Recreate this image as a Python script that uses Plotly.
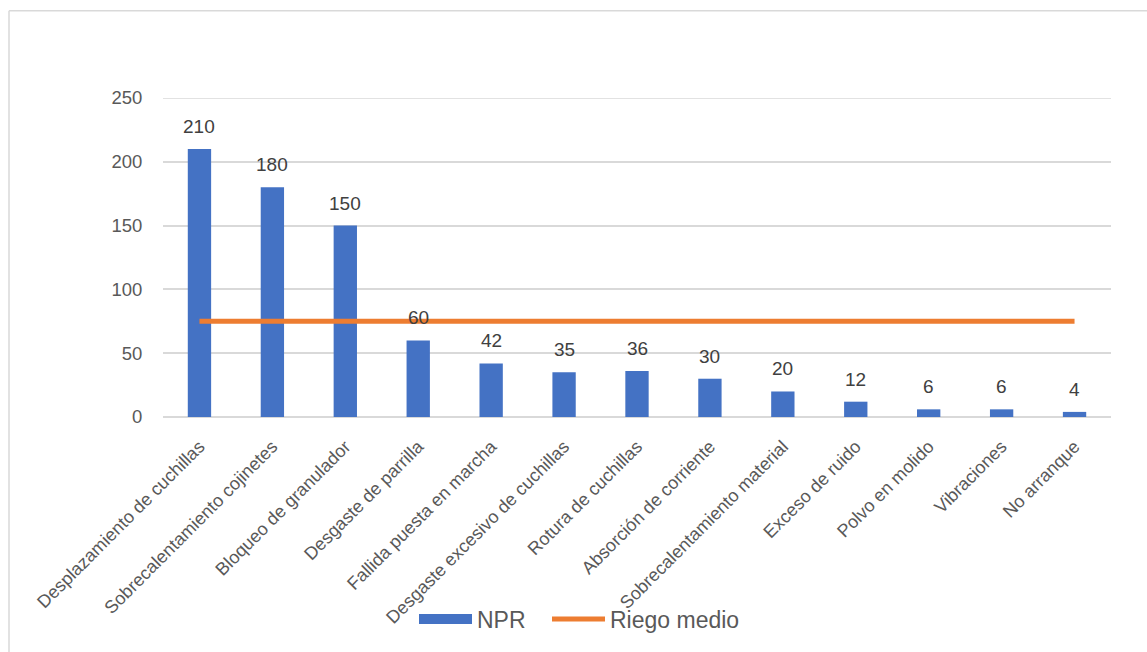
import plotly.graph_objects as go

categorias = ["Desplazamiento de cuchillas", "Sobrecalentamiento cojinetes", "Bloqueo de granulador",
              "Desgaste de parrilla", "Fallida puesta en marcha", "Desgaste excesivo de cuchillas",
              "Rotura de cuchillas", "Absorción de corriente", "Sobrecalentamiento material",
              "Exceso de ruido", "Polvo en molido", "Vibraciones", "No arranque"]
npr = [210, 180, 150, 60, 42, 35, 36, 30, 20, 12, 6, 6, 4]
riesgo_medio = [75, 75, 75, 75, 75, 75, 75, 75, 75, 75, 75, 75, 75]
y_ticks = [0, 50, 100, 150, 200, 250]

BLUE = "#4472C4"
ORANGE = "#ED7D31"
FONT = "Liberation Sans, Arial, sans-serif"

fig = go.Figure()
fig.add_trace(go.Bar(x=categorias, y=npr, name="NPR", marker_color=BLUE, marker_line_width=0,
                     showlegend=False))
# legend proxy for bars (wide rectangle like the reference)
fig.add_trace(go.Scatter(x=[None], y=[None], name="NPR", mode="lines",
                         line=dict(color=BLUE, width=11), legend="legend"))
fig.add_trace(go.Scatter(x=categorias, y=riesgo_medio, name="Riego medio", mode="lines",
                         line=dict(color=ORANGE, width=5), legend="legend2"))

for c, v in zip(categorias, npr):
    fig.add_annotation(x=c, y=v, text=str(v), showarrow=False, yanchor="bottom", yshift=10,
                       font=dict(size=19, color="#404040", family=FONT))

PL, PR, PT, PB = 163, 1111, 98, 420
pw, ph = PR - PL, PB - PT

leg_common = dict(orientation="h", xanchor="left", y=(PB - 624) / ph, yanchor="middle",
                  font=dict(size=23, color="#595959"), itemwidth=53, bgcolor="rgba(0,0,0,0)")

fig.update_layout(
    width=1147, height=652,
    margin=dict(l=PL, r=1147 - PR, t=PT, b=652 - PB),
    paper_bgcolor="white", plot_bgcolor="white",
    font=dict(family=FONT, color="#595959"),
    bargap=0.68,
    showlegend=True,
    legend=dict(x=(414 - PL) / pw, **leg_common),
    legend2=dict(x=(547 - PL) / pw, **leg_common),
    xaxis=dict(tickangle=-45, tickfont=dict(size=18, color="#595959"), showline=False,
               showgrid=False, ticks="outside", ticklen=11, tickcolor="rgba(0,0,0,0)",
               automargin=False, range=[-0.5, 12.5]),
    yaxis=dict(range=[0, 250], tickvals=y_ticks, tickfont=dict(size=18.5, color="#595959"),
               showgrid=True, gridcolor="#D9D9D9", gridwidth=1.5, zeroline=True,
               zerolinecolor="#D9D9D9", zerolinewidth=1.5, ticks="outside", ticklen=16,
               tickcolor="rgba(0,0,0,0)", showline=False, automargin=False),
    shapes=[
        dict(type="line", xref="paper", yref="y", x0=0, x1=1, y0=250, y1=250,
             line=dict(color="#D9D9D9", width=1.5), layer="below"),
        dict(type="line", xref="paper", yref="paper",
             x0=(9 - PL) / pw, x1=(1147 - PL) / pw, y0=(PB - 10) / ph, y1=(PB - 10) / ph,
             line=dict(color="#D9D9D9", width=1.5), layer="below"),
        dict(type="line", xref="paper", yref="paper",
             x0=(9 - PL) / pw, x1=(9 - PL) / pw, y0=(PB - 10) / ph, y1=(PB - 660) / ph,
             line=dict(color="#D9D9D9", width=1.5), layer="below"),
    ],
)

fig.write_html("out.html")
